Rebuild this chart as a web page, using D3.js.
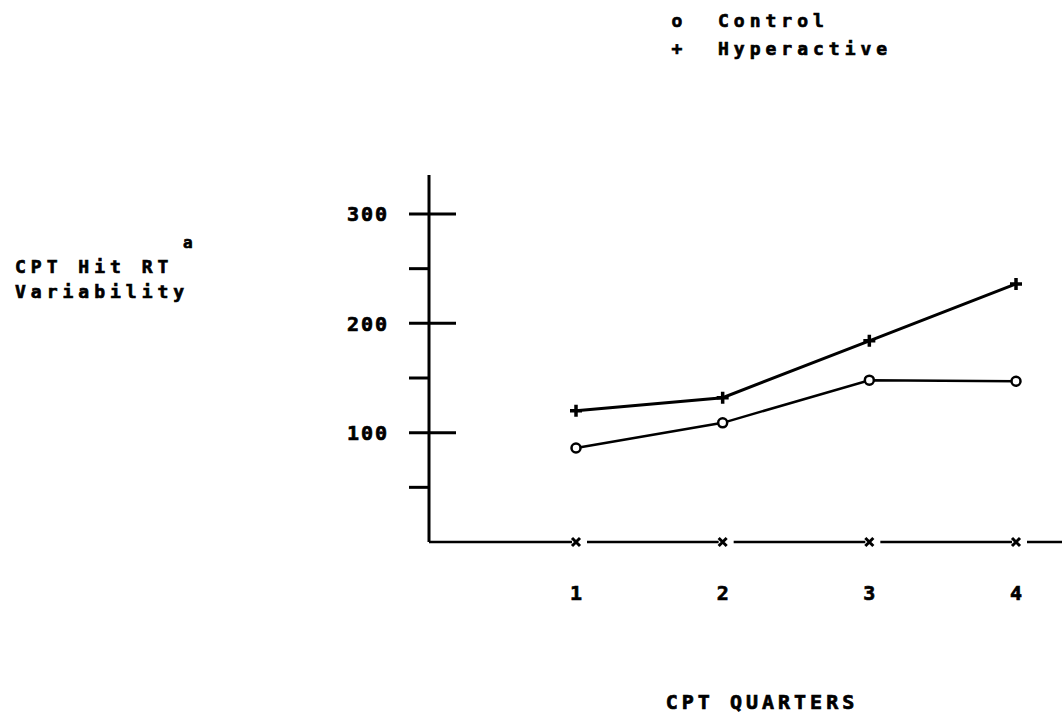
<!DOCTYPE html>
<html>
<head>
<meta charset="utf-8">
<script src="https://cdn.jsdelivr.net/npm/d3@7"></script>
<style>
  html, body { margin: 0; padding: 0; background: #fff; }
  svg text { font-family: "DejaVu Sans Mono", monospace; fill: #000; stroke: #000; stroke-width: 0.7px; }
</style>
</head>
<body>
<div id="chart"></div>
<script>
// data
var quarters = [1, 2, 3, 4];
var control = [86, 109, 148, 147];
var hyperactive = [120, 132, 184, 236];
var yTicks = [50, 100, 150, 200, 250, 300];
var yLabels = [100, 200, 300];
var legendNames = ["Control", "Hyperactive"];
var legendSymbols = ["o", "+"];

var width = 1062, height = 713;

var svg = d3.select("#chart").append("svg")
    .attr("width", width)
    .attr("height", height);

// ranges
var x = d3.scaleLinear().domain([1, 4]).range([576, 1016]);
var y = d3.scaleLinear().domain([0, 300]).range([542, 214]);
var axisX = 429;

// y axis line
svg.append("line")
    .attr("x1", axisX).attr("x2", axisX)
    .attr("y1", 175).attr("y2", y(0))
    .attr("stroke", "#000").attr("stroke-width", 3);

// y ticks: labelled ones cross the axis
yTicks.forEach(function(t) {
  var major = yLabels.indexOf(t) >= 0;
  svg.append("line")
      .attr("x1", axisX - 20).attr("x2", major ? axisX + 27 : axisX)
      .attr("y1", y(t)).attr("y2", y(t))
      .attr("stroke", "#000").attr("stroke-width", 3);
});
svg.selectAll(".ylab").data(yLabels).enter().append("text")
    .attr("class", "ylab")
    .attr("x", 389)
    .attr("y", function(d) { return y(d); })
    .attr("dy", "0.36em")
    .attr("text-anchor", "end")
    .style("font-size", "20px")
    .style("font-weight", "bold")
    .style("letter-spacing", "2px")
    .text(function(d) { return d; });

// x axis: broken segments with x marks at each quarter
var segs = [[axisX, x(1) - 4]];
quarters.forEach(function(q, i) {
  var end = i < quarters.length - 1 ? x(quarters[i + 1]) - 4 : width;
  segs.push([x(q) + 11, end]);
});
svg.selectAll(".xseg").data(segs).enter().append("line")
    .attr("class", "xseg")
    .attr("x1", function(d) { return d[0]; })
    .attr("x2", function(d) { return d[1]; })
    .attr("y1", y(0)).attr("y2", y(0))
    .attr("stroke", "#000").attr("stroke-width", 2.5);

svg.selectAll(".xmark").data(quarters).enter().append("path")
    .attr("class", "xmark")
    .attr("d", function(d) {
      var cx = x(d), cy = y(0), s = 4;
      return "M" + (cx - s) + "," + (cy - s) + "L" + (cx + s) + "," + (cy + s) +
             "M" + (cx - s) + "," + (cy + s) + "L" + (cx + s) + "," + (cy - s);
    })
    .attr("stroke", "#000").attr("stroke-width", 3);

svg.selectAll(".xlab").data(quarters).enter().append("text")
    .attr("class", "xlab")
    .attr("x", function(d) { return x(d); })
    .attr("y", 593)
    .attr("dy", "0.36em")
    .attr("text-anchor", "middle")
    .style("font-size", "20px")
    .style("font-weight", "bold")
    .text(function(d) { return d; });

// lines
var line = d3.line()
    .x(function(d, i) { return x(quarters[i]); })
    .y(function(d) { return y(d); });

svg.append("path")
    .datum(hyperactive)
    .attr("d", line)
    .attr("fill", "none")
    .attr("stroke", "#000")
    .attr("stroke-width", 3);

svg.append("path")
    .datum(control)
    .attr("d", line)
    .attr("fill", "none")
    .attr("stroke", "#000")
    .attr("stroke-width", 2.5);

// markers
svg.selectAll(".plus").data(hyperactive).enter().append("path")
    .attr("class", "plus")
    .attr("d", function(d, i) {
      var cx = x(quarters[i]), cy = y(d), s = 6;
      return "M" + (cx - s) + "," + cy + "L" + (cx + s) + "," + cy +
             "M" + cx + "," + (cy - s) + "L" + cx + "," + (cy + s);
    })
    .attr("stroke", "#000").attr("stroke-width", 3.5);

svg.selectAll(".circ").data(control).enter().append("circle")
    .attr("class", "circ")
    .attr("cx", function(d, i) { return x(quarters[i]); })
    .attr("cy", function(d) { return y(d); })
    .attr("r", 4.5)
    .attr("fill", "#fff")
    .attr("stroke", "#000").attr("stroke-width", 2.5);

// legend
legendNames.forEach(function(n, i) {
  var ly = 21 + i * 28;
  svg.append("text")
      .attr("x", 677).attr("y", ly).attr("dy", "0.36em")
      .attr("text-anchor", "middle")
      .style("font-size", "18px").style("font-weight", "bold")
      .text(legendSymbols[i]);
  svg.append("text")
      .attr("x", 718).attr("y", ly).attr("dy", "0.36em")
      .style("font-size", "18px").style("font-weight", "bold")
      .style("letter-spacing", "5px")
      .text(n);
});

// y axis title
svg.append("text")
    .attr("x", 15).attr("y", 273)
    .style("font-size", "18px").style("font-weight", "bold")
    .style("letter-spacing", "5px")
    .text("CPT Hit RT");
svg.append("text")
    .attr("x", 183).attr("y", 248)
    .style("font-size", "16px").style("font-weight", "bold")
    .text("a");
svg.append("text")
    .attr("x", 15).attr("y", 298)
    .style("font-size", "18px").style("font-weight", "bold")
    .style("letter-spacing", "5px")
    .text("Variability");

// x axis title
svg.append("text")
    .attr("x", 762).attr("y", 709)
    .attr("text-anchor", "middle")
    .style("font-size", "20px").style("font-weight", "bold")
    .style("letter-spacing", "4px")
    .text("CPT QUARTERS");
</script>
</body>
</html>
